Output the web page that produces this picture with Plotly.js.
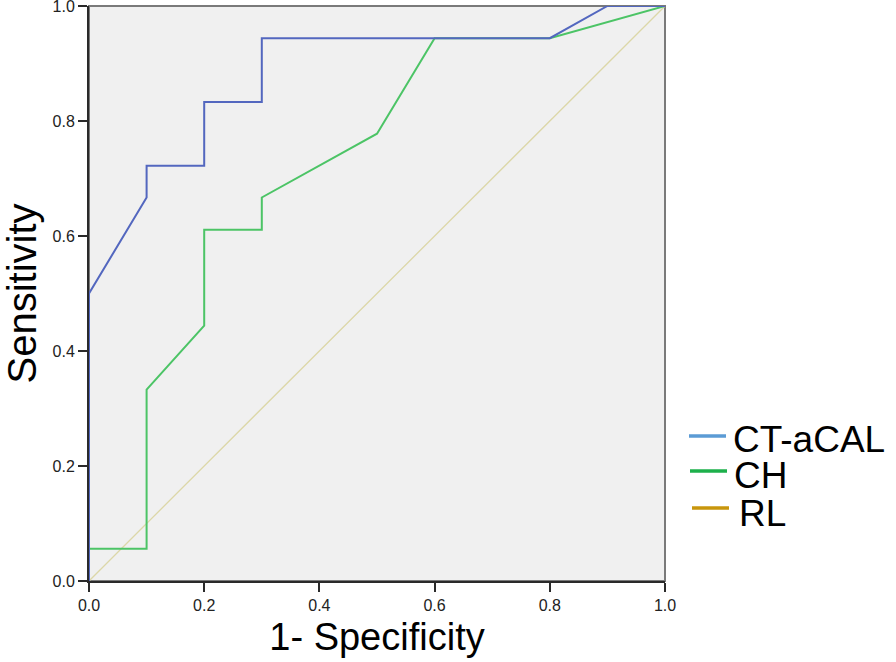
<!DOCTYPE html>
<html>
<head>
<meta charset="utf-8">
<script src="https://cdn.plot.ly/plotly-3.0.1.min.js"></script>
<style>html,body{margin:0;padding:0;background:#fff;}#chart{width:896px;height:662px;}</style>
</head>
<body>
<div id="chart"></div>
<script>
// ROC curve data (1 - specificity, sensitivity)
const ctaX = [0, 0, 0.1, 0.1, 0.2, 0.2, 0.3, 0.3, 0.8, 0.9, 1.0];
const ctaY = [0, 0.5, 0.667, 0.722, 0.722, 0.833, 0.833, 0.944, 0.944, 1.0, 1.0];
const chX = [0, 0, 0.1, 0.1, 0.2, 0.2, 0.3, 0.3, 0.5, 0.6, 0.8, 1.0];
const chY = [0, 0.056, 0.056, 0.333, 0.444, 0.611, 0.611, 0.667, 0.778, 0.944, 0.944, 1.0];
const rlX = [0, 1];
const rlY = [0, 1];
const tickVals = [0, 0.2, 0.4, 0.6, 0.8, 1.0];
const tickText = ['0.0', '0.2', '0.4', '0.6', '0.8', '1.0'];
const legendNames = ['CT-aCAL', 'CH', 'RL'];
const legendColors = ['#5b9bd5', '#1db04b', '#c8960c'];

const L = 89, R = 665, T = 6, B = 581;
const px = v => (v - L) / (R - L);
const py = v => (B - v) / (B - T);

const traces = [
  {x: rlX, y: rlY, mode: 'lines', line: {color: '#dcd7a8', width: 1.3}, showlegend: false, hoverinfo: 'skip'},
  {x: chX, y: chY, mode: 'lines', line: {color: '#4cc466', width: 2}, showlegend: false},
  {x: ctaX, y: ctaY, mode: 'lines', line: {color: '#5367bf', width: 2}, showlegend: false}
];

const font = 'Arial, "Liberation Sans", Helvetica, sans-serif';
const sampleY = [436, 471, 508];
const textY = [439, 476, 513];
const sampleX0 = [689, 690, 692];
const textX = [732, 733, 738];

const shapes = [
  {type: 'rect', xref: 'paper', yref: 'paper', x0: 0, y0: 0, x1: 1, y1: 1, line: {color: '#7a7a7a', width: 2}, layer: 'below'}
];
const annotations = [];
for (let i = 0; i < legendNames.length; i++) {
  shapes.push({type: 'line', xref: 'paper', yref: 'paper',
    x0: px(sampleX0[i]), x1: px(sampleX0[i] + 37), y0: py(sampleY[i]), y1: py(sampleY[i]),
    line: {color: legendColors[i], width: 3.5}});
  annotations.push({xref: 'paper', yref: 'paper', x: px(textX[i]), y: py(textY[i]),
    xanchor: 'left', yanchor: 'middle', showarrow: false, text: legendNames[i], borderpad: 0,
    font: {family: font, size: 37, color: '#000'}});
}

const axisCommon = {
  range: [0, 1], tickvals: tickVals, ticktext: tickText,
  showgrid: false, zeroline: false, showline: true, linecolor: '#2a2a2a', linewidth: 2,
  ticks: 'outside', ticklen: 9, tickwidth: 2, tickcolor: '#2a2a2a', ticklabeloverflow: 'allow',
  tickfont: {family: font, size: 16, color: '#222'}, fixedrange: true
};

const layout = {
  width: 896, height: 662,
  margin: {l: L, r: 896 - R, t: T, b: 662 - B, pad: 0},
  paper_bgcolor: '#ffffff', plot_bgcolor: '#f0f0f0',
  showlegend: false,
  xaxis: Object.assign({}, axisCommon, {title: {text: '1- Specificity', font: {family: font, size: 38, color: '#000'}, standoff: 10}}),
  yaxis: Object.assign({}, axisCommon, {title: {text: 'Sensitivity', font: {family: font, size: 40, color: '#000'}, standoff: 20}}),
  shapes: shapes,
  annotations: annotations
};

Plotly.newPlot('chart', traces, layout, {displayModeBar: false, staticPlot: true});
</script>
</body>
</html>
